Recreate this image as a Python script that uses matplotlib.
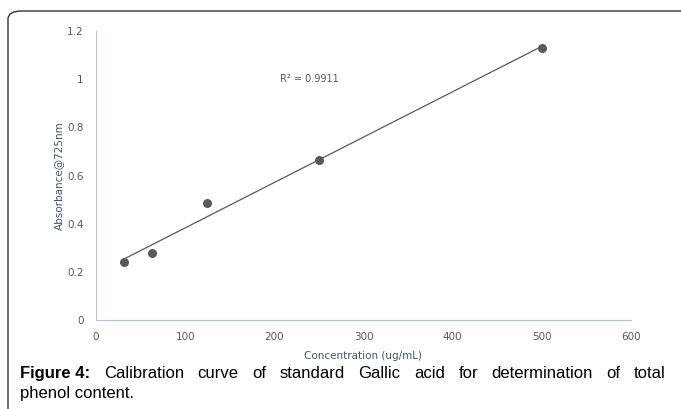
import numpy as np
import matplotlib.pyplot as plt
from matplotlib.patches import FancyBboxPatch

# Gallic acid standards
concentration = [31.25, 62.5, 125, 250, 500]
absorbance = [0.241, 0.277, 0.486, 0.664, 1.128]
x_ticks = [0, 100, 200, 300, 400, 500, 600]
y_ticks = [0, 0.2, 0.4, 0.6, 0.8, 1.0, 1.2]
y_tick_labels = ['0', '0.2', '0.4', '0.6', '0.8', '1', '1.2']
r_squared = '0.9911'
caption_words = ['Figure 4:', 'Calibration', 'curve', 'of', 'standard', 'Gallic', 'acid',
                 'for', 'determination', 'of', 'total']
caption_rest = 'phenol content.'

tick_color = '#595959'
label_color = '#44546a'
spine_color = '#b4c0d3'

fig = plt.figure(figsize=(6.81, 4.09), dpi=100)
W, H = 681, 409

# outer frame, open to the right and bottom
frame = FancyBboxPatch((8 / W, -0.1), 1.2, (H - 11) / H + 0.1,
                       boxstyle='round,pad=0,rounding_size=0.02',
                       transform=fig.transFigure, fill=False,
                       edgecolor='#333333', linewidth=1.0)
fig.patches.append(frame)

ax = fig.add_axes([96 / W, 1 - 320 / H, (631 - 96) / W, (320 - 31) / H])

# linear trendline over the measured range
slope, intercept = np.polyfit(concentration, absorbance, 1)
fit_x = np.array([concentration[0], concentration[-1]])
ax.plot(fit_x, slope * fit_x + intercept, color='#595959', linewidth=0.9)
ax.scatter(concentration, absorbance, s=30, color='#595959', zorder=3)

ax.set_xlim(0, 600)
ax.set_ylim(0, 1.2)
ax.set_xticks(x_ticks)
ax.set_yticks(y_ticks)
ax.set_yticklabels(y_tick_labels)
ax.tick_params(length=0, labelsize=7.5, colors=tick_color, pad=9)
for side in ['top', 'right']:
    ax.spines[side].set_visible(False)
for side in ['left', 'bottom']:
    ax.spines[side].set_color(spine_color)
    ax.spines[side].set_linewidth(0.8)

ax.set_xlabel('Concentration (ug/mL)', fontsize=7.5, color=label_color, labelpad=6)
ax.set_ylabel('Absorbance@725nm', fontsize=7.5, color=label_color, labelpad=2)
ax.text(206, 1.0, 'R² = ' + r_squared, fontsize=7, color=tick_color, va='center')

# justified caption: first line spread between the margins
renderer = fig.canvas.get_renderer()
left, right = 20, 666
y1 = 1 - 378 / H
texts = []
for i, w in enumerate(caption_words):
    t = fig.text(0, y1, w, fontsize=12, family='Liberation Sans', va='baseline',
                 fontweight='bold' if i == 0 else 'normal')
    texts.append(t)
widths = [t.get_window_extent(renderer).width for t in texts]
gap = (right - left - sum(widths)) / (len(texts) - 1)
x = left
for t, w in zip(texts, widths):
    t.set_x(x / W)
    x += w + gap
fig.text(left / W, 1 - 398 / H, caption_rest, fontsize=12,
         family='Liberation Sans', va='baseline')

plt.savefig('out.png', dpi=100)
